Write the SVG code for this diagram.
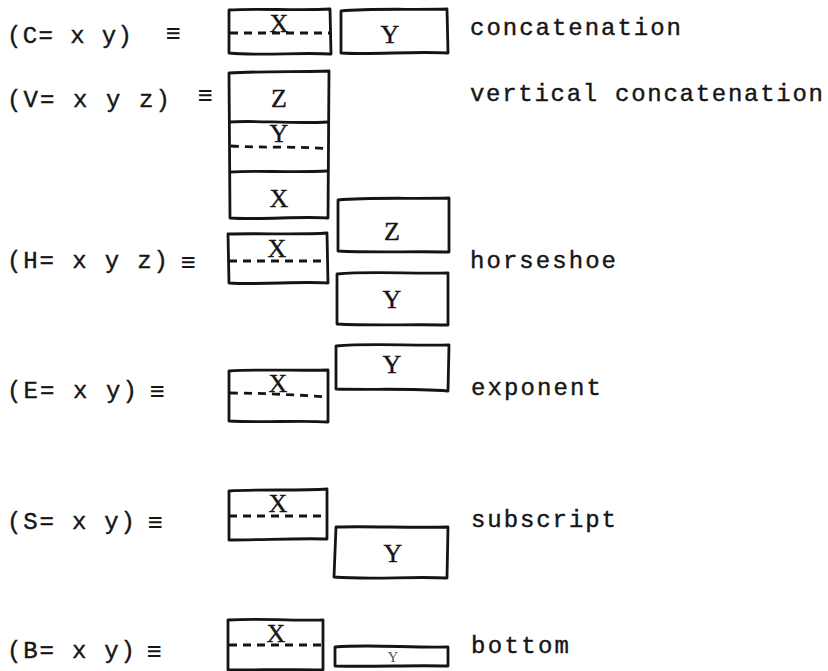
<svg xmlns="http://www.w3.org/2000/svg" width="828" height="671" viewBox="0 0 828 671">
<style>
.lbl{font-family:"Liberation Mono","DejaVu Sans Mono",monospace;font-size:24px;fill:#161616;stroke:#161616;stroke-width:0.4}
.eq{font-family:"DejaVu Sans Mono","Liberation Mono",monospace;font-size:24px;fill:#161616}
.bx{fill:none;stroke:#141414;stroke-width:2.8;stroke-linejoin:round;stroke-linecap:round}
.dash{fill:none;stroke:#141414;stroke-width:2.8;stroke-dasharray:8 6}
.in{font-family:"Liberation Serif","DejaVu Serif",serif;font-size:26px;fill:#161616;stroke:#161616;stroke-width:0.4;text-anchor:middle}
</style>
<rect width="828" height="671" fill="#fff"/>

<g id="row-C">
  <text class="lbl" x="7" y="43" textLength="125" lengthAdjust="spacing">(C= x y)</text>
  <text class="eq" x="166" y="41">≡</text>
  <g id="C-x">
    <path class="bx" d="M229,10 C255,8 300,11 330,9 L331,54 C300,52 262,56 229,53 Z"/>
    <path class="dash" d="M230,33 L330,33"/>
    <text class="in" x="279" y="32">X</text>
  </g>
  <g id="C-y">
    <path class="bx" d="M341,11 C370,8 410,10 447,9 L448,53 C410,51 375,55 341,53 Z"/>
    <text class="in" x="390" y="43">Y</text>
  </g>
  <text class="lbl" x="470" y="35" textLength="211" lengthAdjust="spacing">concatenation</text>
</g>

<g id="row-V">
  <text class="lbl" x="7" y="107" textLength="163" lengthAdjust="spacing">(V= x y z)</text>
  <text class="eq" x="198" y="103">≡</text>
  <g id="V-stack">
    <path class="bx" d="M229,73 C260,71 300,72 329,71 L328,218 C300,216 262,220 230,218 Z"/>
    <path class="bx" d="M230,122 C255,120 290,124 328,122"/>
    <path class="bx" d="M230,172 C255,170 290,173 328,171"/>
    <path class="dash" d="M231,146 C260,148 300,146 329,149"/>
    <text class="in" x="279" y="107">Z</text>
    <text class="in" x="279" y="142">Y</text>
    <text class="in" x="279" y="207">X</text>
  </g>
  <text class="lbl" x="470" y="101" textLength="353" lengthAdjust="spacing">vertical concatenation</text>
</g>

<g id="row-H">
  <text class="lbl" x="7" y="268" textLength="161" lengthAdjust="spacing">(H= x y z)</text>
  <text class="eq" x="181" y="270">≡</text>
  <g id="H-x">
    <path class="bx" d="M228,234 C260,233 300,235 327,233 L328,283 C300,281 262,285 229,283 Z"/>
    <path class="dash" d="M229,261 L327,261"/>
    <text class="in" x="277" y="257">X</text>
  </g>
  <g id="H-z">
    <path class="bx" d="M338,200 C370,197 410,199 449,198 L449,252 C410,251 375,253 338,251 Z"/>
    <text class="in" x="392" y="240">Z</text>
  </g>
  <g id="H-y">
    <path class="bx" d="M337,274 C370,271 410,274 448,273 L448,325 C410,324 375,326 337,324 Z"/>
    <text class="in" x="392" y="308">Y</text>
  </g>
  <text class="lbl" x="470" y="268" textLength="146" lengthAdjust="spacing">horseshoe</text>
</g>

<g id="row-E">
  <text class="lbl" x="7" y="398" textLength="130" lengthAdjust="spacing">(E= x y)</text>
  <text class="eq" x="150" y="399">≡</text>
  <g id="E-x">
    <path class="bx" d="M229,371 C260,369 300,371 328,370 L328,422 C300,420 262,423 229,421 Z"/>
    <path class="dash" d="M230,393 C260,393 300,395 328,397"/>
    <text class="in" x="278" y="392">X</text>
  </g>
  <g id="E-y">
    <path class="bx" d="M336,346 C370,343 410,346 449,345 L448,391 C410,388 375,390 336,389 Z"/>
    <text class="in" x="392" y="373">Y</text>
  </g>
  <text class="lbl" x="471" y="395" textLength="130" lengthAdjust="spacing">exponent</text>
</g>

<g id="row-S">
  <text class="lbl" x="7" y="529" textLength="128" lengthAdjust="spacing">(S= x y)</text>
  <text class="eq" x="148" y="530">≡</text>
  <g id="S-x">
    <path class="bx" d="M229,491 C260,489 300,491 327,489 L327,539 C300,538 262,540 229,540 Z"/>
    <path class="dash" d="M229,516 L327,516"/>
    <text class="in" x="278" y="512">X</text>
  </g>
  <g id="S-y">
    <path class="bx" d="M336,527 C370,526 410,528 448,527 L447,578 C410,576 375,580 334,577 Z"/>
    <text class="in" x="393" y="562">Y</text>
  </g>
  <text class="lbl" x="471" y="527" textLength="145" lengthAdjust="spacing">subscript</text>
</g>

<g id="row-B">
  <text class="lbl" x="7" y="658" textLength="128" lengthAdjust="spacing">(B= x y)</text>
  <text class="eq" x="147" y="659">≡</text>
  <g id="B-x">
    <path class="bx" d="M228,620 C260,618 300,621 323,620 L323,670 C300,669 262,670 228,670 Z"/>
    <path class="dash" d="M229,645 L323,645"/>
    <text class="in" x="276" y="642">X</text>
  </g>
  <g id="B-y">
    <path class="bx" d="M335,647 C370,644 410,648 448,647 L448,666 C410,665 375,667 335,666 Z"/>
    <text class="in" x="393" y="662" style="font-size:15px;fill:#555;stroke:none">Y</text>
  </g>
  <text class="lbl" x="471" y="653" textLength="98" lengthAdjust="spacing">bottom</text>
</g>
</svg>
